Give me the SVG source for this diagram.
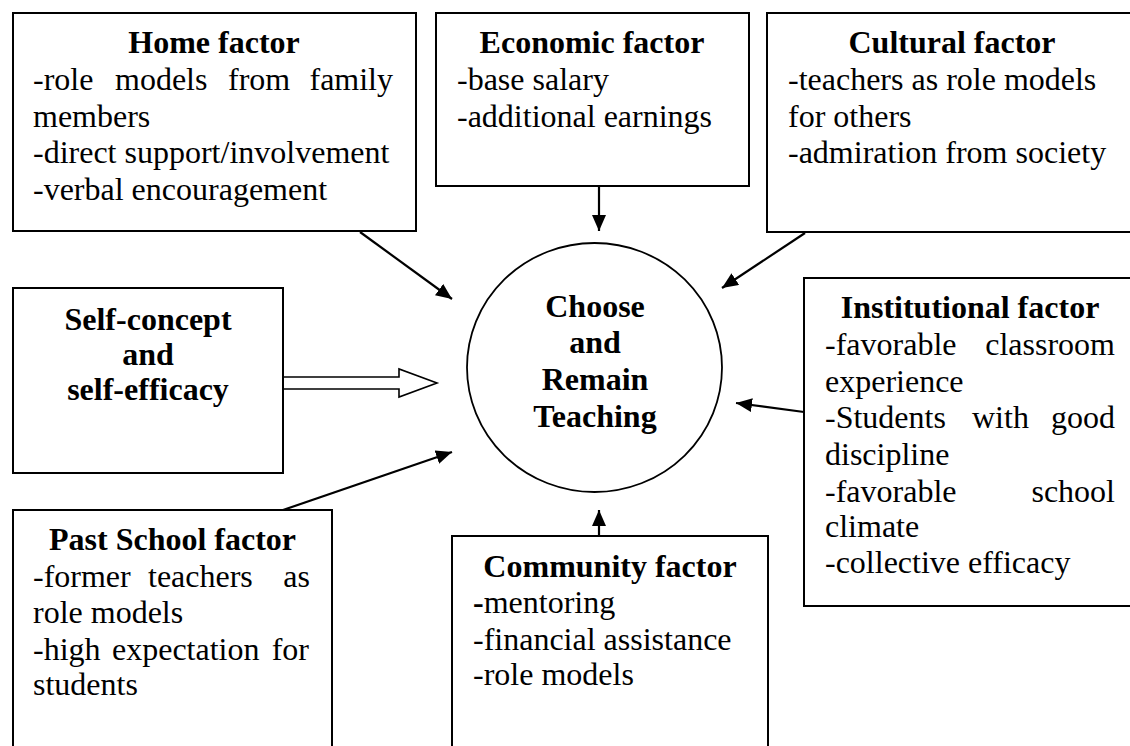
<svg xmlns="http://www.w3.org/2000/svg" width="1130" height="746" viewBox="0 0 1130 746">
  <defs>
    <marker id="arrow" markerUnits="userSpaceOnUse" markerWidth="18" markerHeight="14" refX="16" refY="7" orient="auto">
      <path d="M0,0 L16,7 L0,14 Z" fill="#000"/>
    </marker>
    <style>
      .box { fill: #fff; stroke: #000; stroke-width: 2; }
      .ring { fill: #fff; stroke: #000; stroke-width: 1.8; }
      .link { stroke: #000; stroke-width: 2.2; fill: none; marker-end: url(#arrow); }
      .hollow { fill: #fff; stroke: #000; stroke-width: 1.6; stroke-linejoin: miter; }
      text { font-family: 'Liberation Serif', 'Times New Roman', serif; font-size: 32px; fill: #000; }
      text.title { font-weight: 700; text-anchor: middle; }
      text.end { text-anchor: end; }
    </style>
  </defs>

  <rect width="1130" height="746" fill="#fff"/>

  <!-- connectors -->
  <g id="connectors">
    <line class="link" x1="360" y1="232" x2="452" y2="299"/>
    <line class="link" x1="599" y1="187" x2="599" y2="231"/>
    <line class="link" x1="805" y1="233" x2="722" y2="288"/>
    <line class="link" x1="804" y1="412" x2="736" y2="403"/>
    <line class="link" x1="283" y1="510" x2="452" y2="452"/>
    <line class="link" x1="599" y1="536" x2="599" y2="510"/>
    <path class="hollow" d="M283,377 L399,377 L399,369 L437,383 L399,397 L399,389 L283,389"/>
  </g>

  <!-- Home factor -->
  <g id="home">
    <rect class="box" x="13" y="13" width="403" height="218"/>
    <text class="title" x="214" y="53">Home factor</text>
    <text x="33" y="90">-role</text>
    <text x="115" y="90">models</text>
    <text x="228" y="90">from</text>
    <text class="end" x="393" y="90">family</text>
    <text x="33" y="127">members</text>
    <text x="33" y="163">-direct support/involvement</text>
    <text x="33" y="200">-verbal encouragement</text>
  </g>

  <!-- Economic factor -->
  <g id="economic">
    <rect class="box" x="436" y="13" width="313" height="173"/>
    <text class="title" x="592" y="53">Economic factor</text>
    <text x="457" y="90">-base salary</text>
    <text x="457" y="127">-additional earnings</text>
  </g>

  <!-- Cultural factor -->
  <g id="cultural">
    <rect class="box" x="767" y="13" width="380" height="219"/>
    <text class="title" x="952" y="53">Cultural factor</text>
    <text x="788" y="90">-teachers as role models</text>
    <text x="788" y="127">for others</text>
    <text x="788" y="163">-admiration from society</text>
  </g>

  <!-- Self-concept and self-efficacy -->
  <g id="self">
    <rect class="box" x="13" y="288" width="270" height="185"/>
    <text class="title" x="148" y="330">Self-concept</text>
    <text class="title" x="148" y="365">and</text>
    <text class="title" x="148" y="400">self-efficacy</text>
  </g>

  <!-- Central outcome -->
  <g id="center">
    <ellipse class="ring" cx="594.5" cy="367.5" rx="127.5" ry="124.5"/>
    <text class="title" x="595" y="317">Choose</text>
    <text class="title" x="595" y="353">and</text>
    <text class="title" x="595" y="390">Remain</text>
    <text class="title" x="595" y="427">Teaching</text>
  </g>

  <!-- Institutional factor -->
  <g id="institutional">
    <rect class="box" x="804" y="278" width="340" height="328"/>
    <text class="title" x="970" y="318">Institutional factor</text>
    <text x="825" y="355">-favorable</text>
    <text class="end" x="1115" y="355">classroom</text>
    <text x="825" y="392">experience</text>
    <text x="825" y="428">-Students</text>
    <text x="972" y="428">with</text>
    <text class="end" x="1115" y="428">good</text>
    <text x="825" y="465">discipline</text>
    <text x="825" y="502">-favorable</text>
    <text class="end" x="1115" y="502">school</text>
    <text x="825" y="537">climate</text>
    <text x="825" y="573">-collective efficacy</text>
  </g>

  <!-- Past School factor -->
  <g id="past-school">
    <rect class="box" x="13" y="510" width="319" height="260"/>
    <text class="title" x="172.5" y="550">Past School factor</text>
    <text x="33" y="587">-former</text>
    <text x="148" y="587">teachers</text>
    <text class="end" x="310" y="587">as</text>
    <text x="33" y="623">role models</text>
    <text x="33" y="660">-high</text>
    <text x="112" y="660">expectation</text>
    <text class="end" x="309" y="660">for</text>
    <text x="33" y="695">students</text>
  </g>

  <!-- Community factor -->
  <g id="community">
    <rect class="box" x="452" y="536" width="316" height="240"/>
    <text class="title" x="610" y="577">Community factor</text>
    <text x="473" y="613"><tspan font-weight="700">-</tspan>mentoring</text>
    <text x="473" y="650">-financial assistance</text>
    <text x="473" y="685">-role models</text>
  </g>
</svg>
